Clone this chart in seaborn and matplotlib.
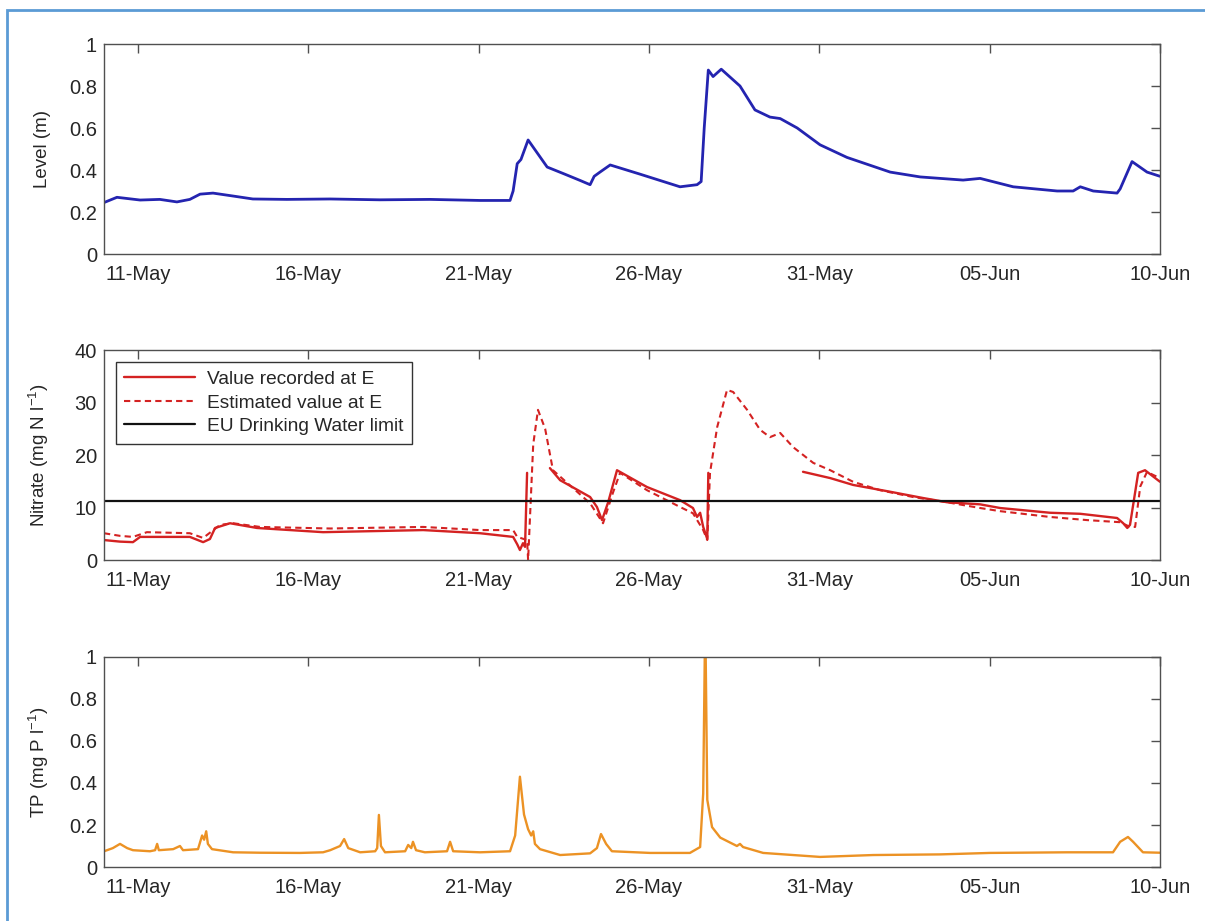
import pandas as pd
import numpy as np
import seaborn as sns
import matplotlib.pyplot as plt
import matplotlib.dates as mdates
from matplotlib.patches import Rectangle
from matplotlib.ticker import FuncFormatter


START = pd.Timestamp("2013-05-10")
END = pd.Timestamp("2013-06-10")
TICK_DATES = pd.date_range("2013-05-11", periods=7, freq="5D")

# Time given as days after 10-May 00:00
LEVEL_DAYS = [0.00, 0.38, 1.06, 1.64, 2.14, 2.52, 2.82, 3.20, 3.79, 4.37, 5.37, 6.64,
              8.10, 9.57, 11.04, 11.92, 12.01, 12.13, 12.24, 12.45, 13.01, 13.53, 13.98,
              14.27, 14.39, 14.56, 14.86, 15.74, 16.91, 17.41, 17.53, 17.62, 17.74, 17.88,
              18.12, 18.67, 19.11, 19.55, 19.85, 20.35, 21.02, 21.81, 23.08, 23.96, 25.22,
              25.72, 26.69, 27.98, 28.45, 28.66, 29.04, 29.74, 29.83, 30.18, 30.62, 31.00]
LEVEL_M = [0.245, 0.27, 0.257, 0.26, 0.248, 0.26, 0.285, 0.29, 0.276, 0.262, 0.26, 0.262,
           0.258, 0.26, 0.255, 0.255, 0.30, 0.43, 0.45, 0.543, 0.414, 0.38, 0.35,
           0.33, 0.37, 0.39, 0.424, 0.38, 0.32, 0.33, 0.345, 0.60, 0.876, 0.845,
           0.88, 0.80, 0.686, 0.652, 0.645, 0.60, 0.52, 0.46, 0.39, 0.367, 0.352,
           0.36, 0.32, 0.30, 0.30, 0.32, 0.30, 0.29, 0.31, 0.44, 0.39, 0.37]

# Recorded nitrate has gaps -> three segments
NO3_REC_DAYS = [0.00, 0.47, 0.85, 1.06, 2.52, 2.91, 3.11, 3.26, 3.70, 4.49, 6.43, 9.37,
                11.04, 12.01, 12.13, 12.21, 12.30, 12.36, 12.42,
                13.09, 13.39, 14.27, 14.47, 14.62, 14.80, 15.06, 15.94, 16.91, 17.29,
                17.41, 17.50, 17.59, 17.71, 17.74,
                20.52, 21.32, 21.99, 23.08, 24.05, 24.75, 25.72, 26.31, 27.77, 28.66,
                29.74, 29.92, 30.04, 30.12, 30.36, 30.56, 31.00]
NO3_REC = [3.8, 3.5, 3.4, 4.4, 4.4, 3.4, 4.0, 6.1, 7.0, 6.1, 5.3, 5.7,
           5.1, 4.4, 3.0, 1.9, 3.2, 2.5, 16.6,
           17.5, 15.2, 12.0, 10.1, 7.6, 11.0, 17.1, 13.9, 11.4, 9.9,
           8.2, 9.0, 6.3, 4.0, 16.6,
           16.8, 15.6, 14.3, 13.0, 11.8, 11.0, 10.6, 9.9, 9.0, 8.8,
           8.0, 7.0, 6.1, 6.7, 16.6, 17.1, 14.9]
NO3_REC_SEG = [0] * 19 + [1] * 15 + [2] * 17

NO3_EST_DAYS = [0.00, 0.47, 0.85, 1.26, 2.52, 2.91, 3.41, 3.79, 4.58, 6.64, 9.37, 11.04,
                12.01, 12.13, 12.42, 12.45, 12.60, 12.74, 12.95, 13.18, 14.27, 14.65,
                14.94, 15.15, 15.94, 16.91, 17.29, 17.59, 17.71, 17.79, 18.00, 18.29,
                18.47, 18.88, 19.26, 19.55, 19.85, 20.23, 20.82, 21.32, 21.99, 22.78,
                23.75, 24.75, 25.72, 26.31, 27.77, 28.86, 29.83, 30.12, 30.27, 30.42,
                30.62, 30.80, 31.00]
NO3_EST = [5.1, 4.6, 4.4, 5.3, 5.1, 4.2, 6.7, 7.0, 6.3, 6.0, 6.3, 5.7,
           5.7, 4.4, 3.8, 0.0, 22.0, 28.6, 25.0, 17.1, 10.8, 7.0,
           12.8, 16.6, 13.3, 10.1, 8.9, 5.7, 3.8, 16.6, 25.3, 32.4,
           32.0, 28.6, 24.8, 23.4, 24.2, 21.5, 18.5, 17.1, 14.9, 13.3,
           12.0, 11.0, 9.9, 9.3, 8.2, 7.6, 7.2, 6.3, 6.3, 14.0,
           16.8, 16.2, 15.6]

EU_LIMIT = 11.3
LEGEND_LABELS = ["Value recorded at E", "Estimated value at E", "EU Drinking Water limit"]

TP_DAYS = [0.00, 0.09, 0.26, 0.47, 0.68, 0.85, 1.35, 1.50, 1.56, 1.61, 2.03, 2.23, 2.32,
           2.76, 2.88, 2.94, 3.00, 3.05, 3.17, 3.79, 4.58, 5.75, 6.43, 6.64, 6.93, 7.05,
           7.17, 7.52, 7.96, 8.02, 8.07, 8.13, 8.25, 8.84, 8.93, 9.02, 9.07, 9.16, 9.42,
           10.07, 10.16, 10.25, 11.04, 11.92, 12.07, 12.21, 12.33, 12.45, 12.54, 12.60,
           12.65, 12.80, 13.39, 14.27, 14.47, 14.59, 14.74, 14.91, 16.03, 17.20, 17.50,
           17.59, 17.65, 17.71, 17.85, 18.09, 18.58, 18.67, 18.76, 19.35, 21.02, 22.58,
           24.54, 26.01, 28.27, 29.62, 29.83, 30.06, 30.21, 30.50, 31.00]
TP_MG = [0.075, 0.08, 0.09, 0.11, 0.09, 0.08, 0.075, 0.08, 0.11, 0.08, 0.085, 0.10, 0.08,
         0.085, 0.15, 0.13, 0.17, 0.11, 0.085, 0.07, 0.068, 0.067, 0.07, 0.08, 0.10, 0.133,
         0.09, 0.07, 0.075, 0.09, 0.248, 0.10, 0.07, 0.075, 0.105, 0.09, 0.12, 0.08, 0.07,
         0.075, 0.12, 0.075, 0.07, 0.075, 0.15, 0.43, 0.25, 0.18, 0.15, 0.17,
         0.11, 0.085, 0.057, 0.065, 0.09, 0.157, 0.11, 0.075, 0.067, 0.067, 0.095,
         0.35, 1.20, 0.32, 0.19, 0.14, 0.10, 0.11, 0.095, 0.067, 0.048, 0.057,
         0.06, 0.067, 0.07, 0.07, 0.12, 0.143, 0.12, 0.07, 0.068]

BLUE = "#2424b0"
RED = "#d42222"
ORANGE = "#ec9224"
TEXT = "#262626"
SPINE = "#505050"


def to_time(days):
    return START + pd.to_timedelta(np.asarray(days), unit="D")


# MATLAB-like axes: ticks inside on all four sides, dd-Mon dates
def style_axis(ax, ylim, yticks):
    ax.set_xlim(START, END)
    ax.set_ylim(*ylim)
    ax.set_xticks(TICK_DATES)
    ax.xaxis.set_major_formatter(mdates.DateFormatter("%d-%b"))
    ax.set_yticks(yticks)
    ax.yaxis.set_major_formatter(FuncFormatter(lambda v, p: f"{v:g}"))
    ax.tick_params(direction="in", length=6.5, width=1, color=SPINE, labelcolor=TEXT,
                   labelsize=14.5, top=True, right=True)
    ax.tick_params(axis="x", pad=8)
    ax.tick_params(axis="y", pad=5)
    for spine in ax.spines.values():
        spine.set_visible(True)
        spine.set_color(SPINE)
        spine.set_linewidth(1)
    ax.set_xlabel("")
    ax.yaxis.set_label_coords(-0.05, 0.5)


def main():
    sns.set_theme(style="white")
    plt.rcParams["font.family"] = ["Liberation Sans", "DejaVu Sans"]
    plt.rcParams["mathtext.default"] = "regular"

    level_df = pd.DataFrame({"time": to_time(LEVEL_DAYS), "value": LEVEL_M})
    rec_df = pd.DataFrame({"time": to_time(NO3_REC_DAYS), "value": NO3_REC, "seg": NO3_REC_SEG})
    est_df = pd.DataFrame({"time": to_time(NO3_EST_DAYS), "value": NO3_EST})
    tp_df = pd.DataFrame({"time": to_time(TP_DAYS), "value": TP_MG})

    fig = plt.figure(figsize=(12.05, 9.21), dpi=100)
    left, width, height = 104 / 1205, 1056 / 1205, 210 / 921
    ax1 = fig.add_axes([left, 1 - 254 / 921, width, height])
    ax2 = fig.add_axes([left, 1 - 560 / 921, width, height])
    ax3 = fig.add_axes([left, 1 - 867 / 921, width, height])

    # Level
    sns.lineplot(data=level_df, x="time", y="value", color=BLUE, linewidth=2.0, ax=ax1)
    style_axis(ax1, (0, 1), np.arange(0, 1.01, 0.2))
    ax1.set_ylabel("Level (m)", fontsize=13.5, color=TEXT)

    # Nitrate
    sns.lineplot(data=rec_df, x="time", y="value", units="seg", estimator=None,
                 color=RED, linewidth=1.7, ax=ax2)
    sns.lineplot(data=est_df, x="time", y="value", color=RED, linewidth=1.5, ax=ax2)
    ax2.lines[-1].set_linestyle((0, (3, 2)))
    ax2.axhline(EU_LIMIT, color="#111111", linewidth=1.6)
    style_axis(ax2, (0, 40), [0, 10, 20, 30, 40])
    ax2.set_ylabel(r"Nitrate (mg N l$^{-1}$)", fontsize=13.5, color=TEXT)

    handles = [
        plt.Line2D([], [], color=RED, linewidth=1.7),
        plt.Line2D([], [], color=RED, linewidth=1.5, linestyle=(0, (3, 2))),
        plt.Line2D([], [], color="#111111", linewidth=1.6),
    ]
    leg = ax2.legend(handles, LEGEND_LABELS, loc="upper left", bbox_to_anchor=(0.011, 0.943),
                     borderaxespad=0, fontsize=13.8, handlelength=3.7, handletextpad=0.6,
                     labelspacing=0.32, borderpad=0.45, frameon=True, fancybox=False,
                     framealpha=1)
    leg.get_frame().set_edgecolor("#333333")
    leg.get_frame().set_linewidth(1)
    for t in leg.get_texts():
        t.set_color(TEXT)

    # Total phosphorus
    sns.lineplot(data=tp_df, x="time", y="value", color=ORANGE, linewidth=1.7, ax=ax3)
    style_axis(ax3, (0, 1), np.arange(0, 1.01, 0.2))
    ax3.set_ylabel(r"TP (mg P l$^{-1}$)", fontsize=13.5, color=TEXT)

    # light blue frame around the figure
    fig.patches.append(Rectangle((7 / 1205, -0.1), 1.2, 1.1 - 10 / 921,
                                 transform=fig.transFigure, fill=False,
                                 edgecolor="#5b9bd5", linewidth=2, zorder=10))

    fig.savefig("out.png", dpi=100)


if __name__ == "__main__":
    main()
